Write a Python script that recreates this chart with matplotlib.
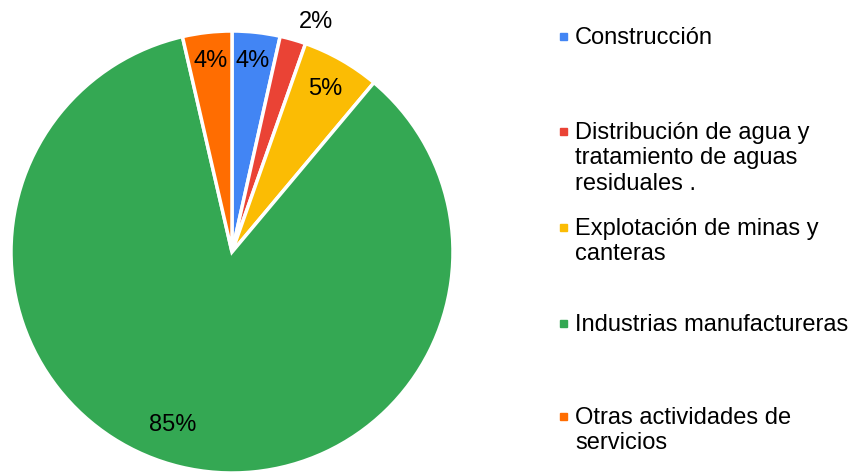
import matplotlib.pyplot as plt
import numpy as np
from matplotlib.patches import Rectangle

plt.rcParams['font.family'] = ['Liberation Sans', 'DejaVu Sans']

labels = ["Construcción",
          "Distribución de agua y\ntratamiento de aguas\nresiduales .",
          "Explotación de minas y\ncanteras",
          "Industrias manufactureras",
          "Otras actividades de\nservicios"]
values = [3.5, 1.9, 5.7, 85.3, 3.6]
colors = ["#4285F4", "#EA4335", "#FBBC04", "#34A853", "#FF6D01"]
pct_text = ["4%", "2%", "5%", "85%", "4%"]

# label placement: distance from centre (radius units), angle tweak (deg)
lbl_dist = [0.87, 1.11, 0.85, 0.83, 0.87]
lbl_shift = [0, -4, 0, -5.5, 0]

W, H = 857, 472
fig = plt.figure(figsize=(W / 100, H / 100), dpi=100)

cx, cy, r = 232, 252, 221
ax = fig.add_axes([(cx - r) / W, (H - cy - r) / H, 2 * r / W, 2 * r / H])
ax.pie(values, colors=colors, startangle=90, counterclock=False,
       radius=1, wedgeprops=dict(edgecolor="white", linewidth=2.5))
ax.set_xlim(-1, 1)
ax.set_ylim(-1, 1)
ax.set_aspect("auto")
ax.axis("off")

total = sum(values)
start = 90.0
for v, t, d, s in zip(values, pct_text, lbl_dist, lbl_shift):
    mid = start - v / total * 360 / 2 + s
    start -= v / total * 360
    x = d * np.cos(np.radians(mid))
    y = d * np.sin(np.radians(mid))
    ax.text(x, y, t, ha="center", va="center", fontsize=17, color="black", clip_on=False)

# legend
leg_y = [36, 131, 227, 323, 416]
for lab, col, y in zip(labels, colors, leg_y):
    fig.patches.append(Rectangle((560 / W, (H - y - 4) / H), 7 / W, 7 / H,
                                 transform=fig.transFigure, color=col))
    fig.text(575 / W, (H - y + 9) / H, lab, ha="left", va="top", fontsize=17,
             linespacing=1.2, transform=fig.transFigure)

fig.savefig("out.png", dpi=100)
